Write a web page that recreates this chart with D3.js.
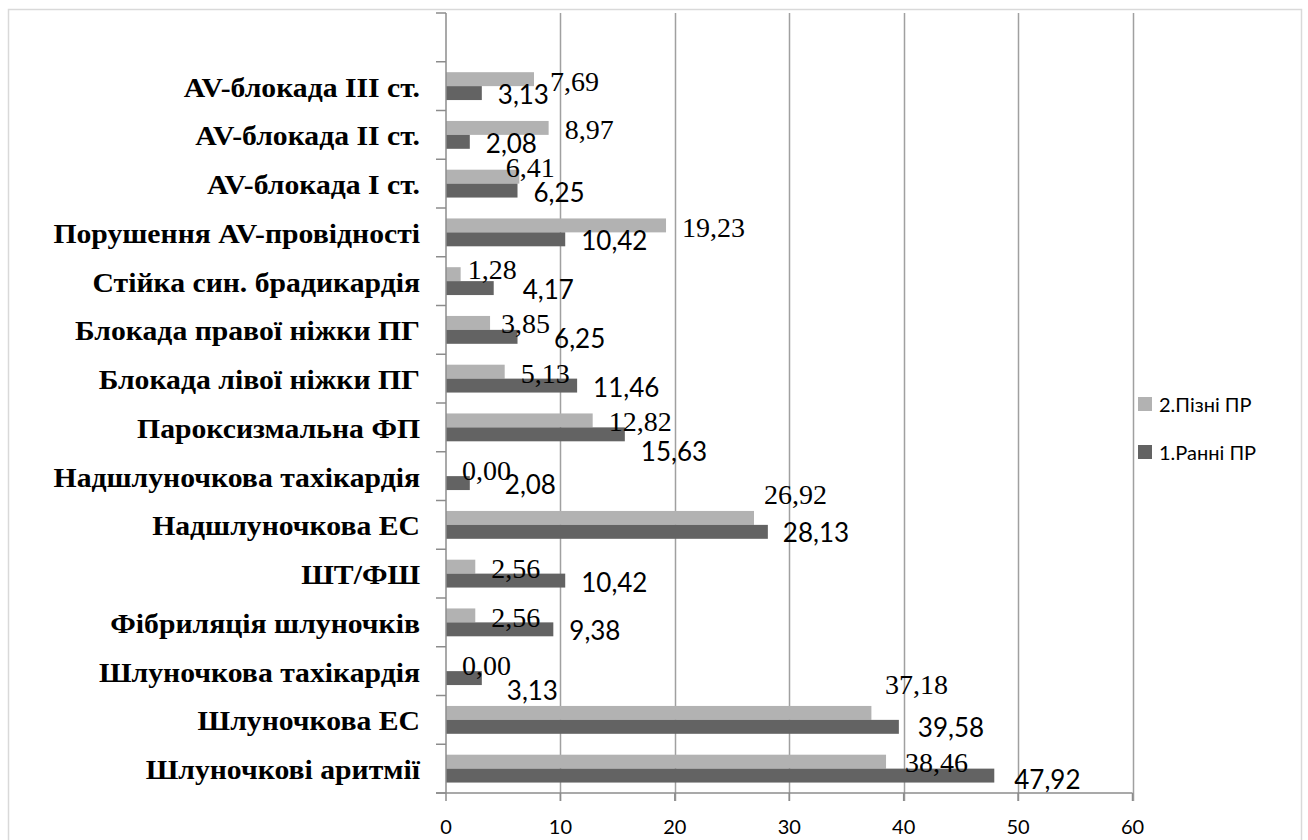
<!DOCTYPE html>
<html><head><meta charset="utf-8">
<script src="https://cdn.jsdelivr.net/npm/d3@7"></script>
<style>html,body{margin:0;padding:0;background:#fff;}svg{display:block;}</style>
</head><body>
<svg id="chart" width="1308" height="840"></svg>
<script>
// Categories from top to bottom (first slot is an empty category in the source chart)
const categories = ["", "AV-блокада III ст.", "AV-блокада II ст.", "AV-блокада I ст.", "Порушення AV-провідності",
  "Стійка син. брадикардія", "Блокада правої ніжки ПГ", "Блокада лівої ніжки ПГ", "Пароксизмальна ФП",
  "Надшлуночкова тахікардія", "Надшлуночкова ЕС", "ШТ/ФШ", "Фібриляція шлуночків",
  "Шлуночкова тахікардія", "Шлуночкова ЕС", "Шлуночкові аритмії"];
const seriesNames = ["2.Пізні ПР", "1.Ранні ПР"];
const lateValues  = [null, 7.69, 8.97, 6.41, 19.23, 1.28, 3.85, 5.13, 12.82, 0.00, 26.92, 2.56, 2.56, 0.00, 37.18, 38.46];
const earlyValues = [null, 3.13, 2.08, 6.25, 10.42, 4.17, 6.25, 11.46, 15.63, 2.08, 28.13, 10.42, 9.38, 3.13, 39.58, 47.92];
const xTicks = [0, 10, 20, 30, 40, 50, 60];

// Manual label nudges (as dragged in the source chart) [dx, dy] in px
const lateLabelNudge  = [null,[0,0],[0,0],[-29.5,-11],[0,0],[-9,-7],[-5,-1],[0,0],[0,-1],[0,-1],[-6,-25],[0,0],[0,0],[0,-1],[-2.5,-30],[3,-1]];
const earlyLabelNudge = [null,[0,0],[0,0],[0,0],[0,0],[13,0],[20.6,0],[0,0],[0,15.5],[19,0],[-1,-1],[0,0],[0,0],[9,10.5],[3,-1],[4,2]];

const colors = {late: "#b2b2b2", early: "#636363"};
const svg = d3.select("#chart");

// frame
svg.append("rect").attr("x", 8.5).attr("y", 9.5).attr("width", 1293).attr("height", 900)
  .attr("fill", "#fff").attr("stroke", "#d9d9d9").attr("stroke-width", 1.5);

const x = d3.scaleLinear().domain([0, 60]).range([446, 1132.5]);
const y = d3.scaleBand().domain(categories.map((c, i) => i)).range([13, 793]).paddingInner(0).paddingOuter(0);
const sub = d3.scaleBand().domain(["late", "early"]).range([0, y.bandwidth()]).paddingInner(0).paddingOuter(0.75);
const plotTop = 13, plotBottom = 793;

// gridlines
svg.append("g").selectAll("line").data(xTicks.slice(1)).join("line")
  .attr("x1", d => Math.round(x(d)) + 0.5).attr("x2", d => Math.round(x(d)) + 0.5)
  .attr("y1", plotTop).attr("y2", plotBottom + 8)
  .attr("stroke", "#a0a0a0").attr("stroke-width", 1.5);

// bars
const rows = categories.map((c, i) => ({i, late: lateValues[i], early: earlyValues[i]})).filter(d => d.late !== null);
const g = svg.append("g");
["late", "early"].forEach(key => {
  g.selectAll("rect." + key).data(rows).join("rect").attr("class", key)
    .attr("x", x(0)).attr("y", d => y(d.i) + sub(key))
    .attr("width", d => x(d[key]) - x(0)).attr("height", sub.bandwidth())
    .attr("fill", colors[key]);
});

// axes
svg.append("line").attr("x1", 446).attr("x2", 446).attr("y1", plotTop).attr("y2", plotBottom)
  .attr("stroke", "#8c8c8c").attr("stroke-width", 1.5);
svg.append("line").attr("x1", 436).attr("x2", x(60)).attr("y1", plotBottom).attr("y2", plotBottom)
  .attr("stroke", "#8c8c8c").attr("stroke-width", 1.5);
// left ticks at category boundaries
const bounds = categories.map((c, i) => y(i)).concat([plotBottom]);
svg.append("g").selectAll("line").data(bounds).join("line")
  .attr("x1", 436).attr("x2", 446).attr("y1", d => d).attr("y2", d => d)
  .attr("stroke", "#8c8c8c").attr("stroke-width", 1.5);
// bottom ticks
svg.append("g").selectAll("line").data(xTicks).join("line")
  .attr("x1", d => x(d)).attr("x2", d => x(d)).attr("y1", plotBottom).attr("y2", plotBottom + 8)
  .attr("stroke", "#8c8c8c").attr("stroke-width", 1.5);
// tick labels
svg.append("g").selectAll("text").data(xTicks).join("text")
  .attr("x", d => x(d)).attr("y", 834).attr("text-anchor", "middle")
  .attr("font-family", "Lato, sans-serif").attr("font-size", 20).attr("fill", "#000")
  .text(d => d);

// category labels (slightly widened like the source)
svg.append("g").attr("transform", "translate(420,0) scale(1.1,1)")
  .selectAll("text").data(categories).join("text")
  .attr("x", 0).attr("y", (d, i) => y(i) + y.bandwidth() / 2 + 10.5)
  .attr("text-anchor", "end")
  .attr("font-family", "'Liberation Serif', 'Times New Roman', serif").attr("font-weight", "bold")
  .attr("font-size", 27).attr("fill", "#000")
  .text(d => d);

// data labels
const fmt = v => v.toFixed(2).replace(".", ",");
g.selectAll("text.late").data(rows).join("text").attr("class", "late")
  .attr("x", d => x(d.late) + 16 + lateLabelNudge[d.i][0])
  .attr("y", d => y(d.i) + sub("late") + sub.bandwidth() / 2 + 2 + 9.5 + lateLabelNudge[d.i][1])
  .attr("font-family", "'Liberation Serif', 'Times New Roman', serif").attr("font-size", 28).attr("fill", "#000")
  .text(d => fmt(d.late));
g.selectAll("text.early").data(rows).join("text").attr("class", "early")
  .attr("x", d => x(d.early) + 16 + earlyLabelNudge[d.i][0])
  .attr("y", d => y(d.i) + sub("early") + sub.bandwidth() / 2 + 1.5 + 9.5 + earlyLabelNudge[d.i][1])
  .attr("font-family", "Lato, sans-serif").attr("font-size", 26).attr("fill", "#000")
  .text(d => fmt(d.early));

// legend
const legend = svg.append("g");
const legendKeys = ["late", "early"];
legendKeys.forEach((k, j) => {
  const cy = 404 + j * 48;
  legend.append("rect").attr("x", 1138).attr("y", cy - 7).attr("width", 14).attr("height", 14).attr("fill", colors[k]);
  legend.append("text").attr("x", 1159).attr("y", cy + 7.5)
    .attr("font-family", "Lato, sans-serif").attr("font-size", 20).attr("fill", "#000")
    .text(seriesNames[j]);
});
</script>
</body></html>
